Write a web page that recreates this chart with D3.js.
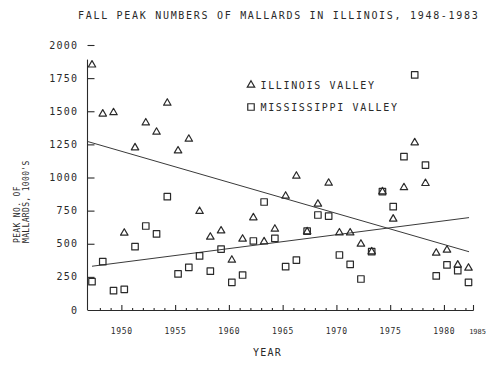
<!DOCTYPE html>
<html>
<head>
<meta charset="utf-8">
<script src="https://cdn.jsdelivr.net/npm/d3@7"></script>
<style>
  html, body { margin: 0; padding: 0; background: #ffffff; }
  svg { display: block; }
  text { font-family: "DejaVu Sans Mono", "Liberation Mono", monospace; fill: #2a2a2a; }
</style>
</head>
<body>
<svg id="chart" width="488" height="367"></svg>
<script>
// Fall peak numbers of mallards (thousands), one value per year 1948-1983
const years = d3.range(1948, 1984);
const illinoisValley = [1850, 1480, 1490, 581, 1225, 1413, 1343, 1562, 1202, 1290,
  745, 551, 598, 377, 536, 697, 516, 611, 860, 1011,
  591, 800, 958, 583, 583, 498, 440, 893, 687, 924,
  1263, 956, 430, 453, 340, 317];
const mississippiValley = [214, 365, 146, 156, 478, 634, 574, 855, 272, 322,
  408, 293, 460, 209, 264, 521, 815, 541, 327, 377,
  595, 717, 709, 415, 345, 234, 440, 893, 780, 1157,
  1774, 1094, 257, 340, 297, 209];

const yTickValues = [0, 250, 500, 750, 1000, 1250, 1500, 1750, 2000];
const xTickLabels = [1950, 1955, 1960, 1965, 1970, 1975, 1980, 1985];

const titleText = "FALL PEAK NUMBERS OF MALLARDS IN ILLINOIS, 1948-1983";
const yTitleLines = ["PEAK NO. OF", "MALLARDS, 1000'S"];
const xTitle = "YEAR";
const legendLabels = ["ILLINOIS VALLEY", "MISSISSIPPI VALLEY"];

const svg = d3.select("#chart");
const ink = "#2a2a2a";

// Data positions and the printed year axis (the axis labels sit a little right of the yearly marks)
const x = d3.scaleLinear().domain([1948, 1983]).range([92, 468.5]);
const xAxisScale = d3.scaleLinear().domain([1946.85, 1982.75]).range([87.5, 473.5]);
const y = d3.scaleLinear().domain([0, 2000]).range([310, 45]);

// Title
svg.append("text")
  .attr("x", 78).attr("y", 18.5)
  .attr("font-size", 10).attr("letter-spacing", 1.7)
  .text(titleText);

// Y axis line and inward ticks
svg.append("line")
  .attr("x1", 87.5).attr("x2", 87.5)
  .attr("y1", y(0)).attr("y2", y(1890))
  .attr("stroke", ink).attr("stroke-width", 1.1);

const yAxis = d3.axisRight(y).tickValues(yTickValues.filter(d => d > 0))
  .tickSize(7).tickFormat("");
const yg = svg.append("g").attr("transform", "translate(87.5,0)").call(yAxis);
yg.select(".domain").remove();
yg.selectAll(".tick line").attr("stroke", ink).attr("stroke-width", 1.1);

svg.append("g").selectAll("text").data(yTickValues).join("text")
  .attr("x", 78.2).attr("y", d => y(d))
  .attr("dy", "0.36em")
  .attr("text-anchor", "end")
  .attr("font-size", 10).attr("letter-spacing", 1.2)
  .text(d => d3.format("d")(d));

// Y axis title, two rotated lines at the far left
yTitleLines.forEach((line, i) => {
  svg.append("text")
    .attr("transform", `translate(${19.5 + i * 9.5},243) rotate(-90)`)
    .attr("font-size", 8).attr("letter-spacing", 0.35)
    .attr("fill", "#3a3a3a")
    .text(line);
});

// X axis line with yearly minor ticks and five-year major ticks, pointing up
svg.append("line")
  .attr("x1", 87.5).attr("x2", 473.5)
  .attr("y1", 310.5).attr("y2", 310.5)
  .attr("stroke", ink).attr("stroke-width", 1.1);

const minorYears = d3.range(1948, 1983).filter(d => d % 5 !== 0);
const majorYears = d3.range(1950, 1985, 5);

const xMinor = d3.axisTop(xAxisScale).tickValues(minorYears).tickSize(2.5).tickFormat("");
const xMajor = d3.axisTop(xAxisScale).tickValues(majorYears).tickSize(5.5).tickFormat("");
[xMinor, xMajor].forEach(ax => {
  const g = svg.append("g").attr("transform", "translate(0,310.5)").call(ax);
  g.select(".domain").remove();
  g.selectAll(".tick line").attr("stroke", ink).attr("stroke-width", 1.1);
});
// closing tick at the right end of the axis
svg.append("line")
  .attr("x1", 473.5).attr("x2", 473.5).attr("y1", 310.5).attr("y2", 305)
  .attr("stroke", ink).attr("stroke-width", 1.1);

// X tick labels (printed faint; the last one runs into the page edge)
svg.append("g").selectAll("text").data(xTickLabels).join("text")
  .attr("x", d => d === 1985 ? 486 : xAxisScale(d) + 0.4)
  .attr("y", 333.5)
  .attr("text-anchor", d => d === 1985 ? "end" : "middle")
  .attr("font-size", d => d === 1985 ? 7 : 8)
  .attr("letter-spacing", d => d === 1985 ? 0 : 0.7)
  .attr("fill", d => d === 1985 ? "#c4c4c4" : "#6a6a6a")
  .text(d => d);

// X axis title
svg.append("text")
  .attr("x", 267.5).attr("y", 355.5)
  .attr("text-anchor", "middle")
  .attr("font-size", 10).attr("letter-spacing", 1.2)
  .text(xTitle);

// Least-squares trend line of a series against year
function fit(values) {
  const mx = d3.mean(years), my = d3.mean(values);
  let sxy = 0, sxx = 0;
  years.forEach((yr, i) => { sxy += (yr - mx) * (values[i] - my); sxx += (yr - mx) ** 2; });
  const slope = sxy / sxx;
  return yr => my + slope * (yr - mx);
}
const trendLine = d3.line().x(d => x(d[0])).y(d => y(d[1]));
[[illinoisValley, 1947.6], [mississippiValley, 1948]].forEach(([vals, start]) => {
  const f = fit(vals);
  svg.append("path")
    .attr("d", trendLine([[start, f(start)], [1983.05, f(1983.05)]]))
    .attr("fill", "none").attr("stroke", "#3a3a3a").attr("stroke-width", 1);
});

// Markers
const tri = d3.symbol().type(d3.symbolTriangle).size(24);
const sq = d3.symbol().type(d3.symbolSquare).size(42);

svg.append("g").selectAll("path").data(mississippiValley).join("path")
  .attr("transform", (d, i) => `translate(${x(years[i])},${y(d)})`)
  .attr("d", sq)
  .attr("fill", "none").attr("stroke", ink).attr("stroke-width", 1.2)
  .attr("stroke-linejoin", "round");

svg.append("g").selectAll("path").data(illinoisValley).join("path")
  .attr("transform", (d, i) => `translate(${x(years[i])},${y(d)})`)
  .attr("d", tri)
  .attr("fill", "none").attr("stroke", ink).attr("stroke-width", 1.2)
  .attr("stroke-linejoin", "round");

// Legend
const legend = svg.append("g");
legend.append("path").attr("transform", "translate(251,85)").attr("d", tri)
  .attr("fill", "none").attr("stroke", ink).attr("stroke-width", 1.2);
legend.append("path").attr("transform", "translate(251,107)").attr("d", sq)
  .attr("fill", "none").attr("stroke", ink).attr("stroke-width", 1.2);
legend.selectAll("text").data(legendLabels).join("text")
  .attr("x", 260.5).attr("y", (d, i) => 88.6 + i * 22)
  .attr("font-size", 10).attr("letter-spacing", 1.65)
  .text(d => d);
</script>
</body>
</html>
